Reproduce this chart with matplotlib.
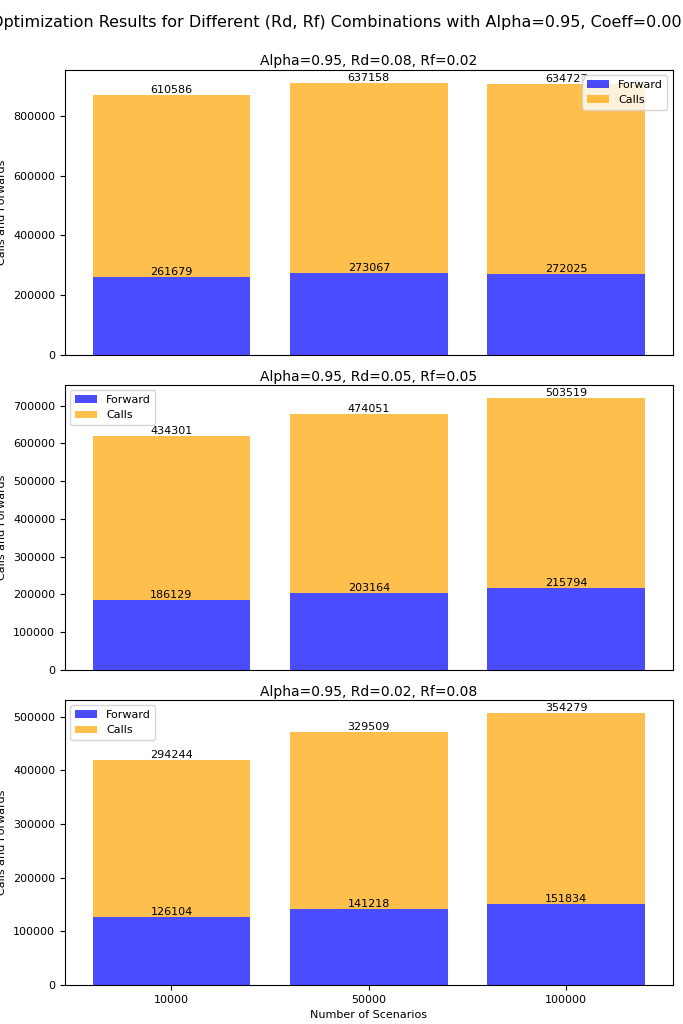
import numpy as np
import matplotlib.pyplot as plt

scenarios = ["10000", "50000", "100000"]
titles = ["Alpha=0.95, Rd=0.08, Rf=0.02",
          "Alpha=0.95, Rd=0.05, Rf=0.05",
          "Alpha=0.95, Rd=0.02, Rf=0.08"]
forwards = [[261679, 273067, 272025],
            [186129, 203164, 215794],
            [126104, 141218, 151834]]
calls = [[610586, 637158, 634727],
         [434301, 474051, 503519],
         [294244, 329509, 354279]]
legend_locs = ["upper right", "upper left", "upper left"]

fig, axes = plt.subplots(3, 1, figsize=(6.83, 10.24), sharex=True)
x = np.arange(len(scenarios))

for ax, title, fw, cl, loc in zip(axes, titles, forwards, calls, legend_locs):
    fw = np.array(fw)
    cl = np.array(cl)
    ax.bar(x, fw, color="blue", alpha=0.7, label="Forward")
    ax.bar(x, cl, bottom=fw, color="orange", alpha=0.7, label="Calls")
    for i in range(len(x)):
        ax.text(x[i], fw[i], str(fw[i]), ha="center", va="bottom", fontsize=8)
        ax.text(x[i], fw[i] + cl[i], str(cl[i]), ha="center", va="bottom", fontsize=8)
    ax.set_title(title, fontsize=10, pad=3)
    ax.set_ylabel("Calls and Forwards", fontsize=8)
    ax.tick_params(labelsize=8)
    ax.legend(loc=loc, fontsize=8)

for ax in axes[:-1]:
    ax.tick_params(axis="x", bottom=False)

axes[-1].set_xticks(x)
axes[-1].set_xticklabels(scenarios)
axes[-1].set_xlabel("Number of Scenarios", fontsize=8)

fig.suptitle("Optimization Results for Different (Rd, Rf) Combinations with Alpha=0.95, Coeff=0.001",
             fontsize=11.5, y=0.985)
plt.subplots_adjust(left=0.095, right=0.985, top=0.932, bottom=0.038, hspace=0.105)
plt.savefig("out.png", dpi=100)
